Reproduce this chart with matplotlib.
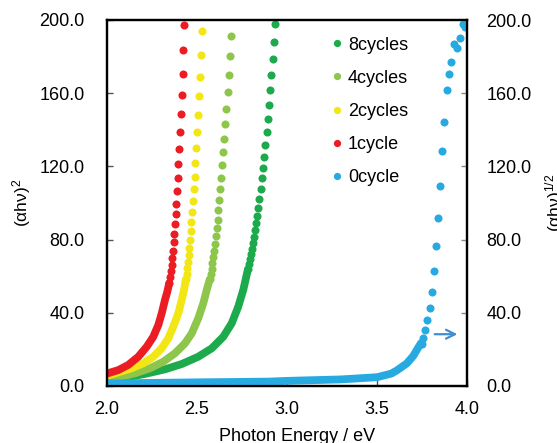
import numpy as np
import matplotlib
matplotlib.use("Agg")
import matplotlib.pyplot as plt
from matplotlib.ticker import FormatStrFormatter

plt.rcParams['font.family'] = ['Liberation Sans', 'DejaVu Sans']
plt.rcParams['mathtext.default'] = 'regular'

# Each sample has a dense lower part (drawn as a
# thick band) and a sparse upper part where single dots are visible.
labels = ["8cycles", "4cycles", "2cycles", "1cycle", "0cycle"]
colors = ["#1caa4c", "#8dc64b", "#f2e614", "#ec1c24", "#27aae1"]

# 8cycles
e8_dots = [2.933, 2.928, 2.921, 2.913, 2.906, 2.898, 2.893, 2.887, 2.879, 2.872, 2.867, 2.859, 2.854,
           2.846, 2.839, 2.833, 2.828, 2.822, 2.817, 2.811, 2.806, 2.800, 2.794, 2.789, 2.783]
v8_dots = [197.6, 188.1, 178.8, 169.9, 161.6, 153.6, 145.9, 138.8, 131.9, 125.3, 119.3, 113.5, 107.8,
           102.3, 97.4, 93.1, 88.9, 85.1, 81.6, 78.3, 75.0, 72.1, 69.2, 66.5, 63.9]
e8_band = [2.783, 2.776, 2.757, 2.729, 2.693, 2.646, 2.582, 2.507, 2.415, 2.322, 2.211, 2.100, 2.000]
v8_band = [63.9, 60.7, 52.5, 43.3, 34.3, 26.9, 20.6, 16.0, 12.0, 9.1, 6.6, 4.6, 3.2]

# 4cycles
e4_dots = [2.687, 2.682, 2.676, 2.671, 2.663, 2.657, 2.652, 2.646, 2.641, 2.635, 2.629, 2.624,
           2.618, 2.614, 2.610, 2.605, 2.600, 2.595, 2.590, 2.585, 2.581, 2.576, 2.571]
v4_dots = [191.4, 180.5, 170.1, 160.5, 151.5, 143.2, 135.1, 127.7, 120.6, 113.8, 107.5, 101.5,
           96.0, 90.7, 86.2, 81.8, 77.8, 73.9, 70.3, 67.0, 63.9, 61.0, 58.3]
e4_band = [2.571, 2.554, 2.535, 2.507, 2.471, 2.433, 2.378, 2.313, 2.239, 2.156, 2.072, 2.000]
v4_band = [58.3, 52.5, 45.2, 37.0, 28.8, 23.3, 17.9, 13.3, 9.7, 6.9, 5.1, 3.7]

# 2cycles
e2_dots = [2.528, 2.522, 2.518, 2.513, 2.507, 2.502, 2.496, 2.491, 2.487, 2.483, 2.478, 2.474,
           2.469, 2.466, 2.462, 2.458, 2.454, 2.450, 2.446, 2.442, 2.438]
v2_dots = [193.8, 180.9, 168.9, 158.3, 148.1, 138.6, 129.9, 122.0, 114.4, 107.5, 101.0, 95.0,
           89.6, 84.5, 79.9, 75.6, 71.6, 67.8, 64.3, 61.2, 58.3]
e2_band = [2.438, 2.428, 2.415, 2.396, 2.368, 2.341, 2.304, 2.257, 2.202, 2.137, 2.063, 2.000]
v2_band = [58.3, 52.5, 47.0, 39.7, 32.4, 26.1, 20.6, 16.0, 12.4, 9.7, 7.5, 5.6]

# 1cycle
e1_dots = [2.429, 2.424, 2.421, 2.415, 2.409, 2.406, 2.402, 2.396, 2.393, 2.389, 2.385, 2.382,
           2.378, 2.374, 2.370, 2.367, 2.363, 2.359, 2.356, 2.352, 2.346]
v1_dots = [197.1, 183.4, 170.5, 159.0, 148.5, 138.6, 129.5, 121.3, 113.5, 106.4, 99.6, 93.8,
           88.4, 83.2, 78.5, 73.9, 69.9, 66.1, 62.7, 59.4, 56.3]
e1_band = [2.346, 2.335, 2.322, 2.304, 2.285, 2.257, 2.221, 2.174, 2.118, 2.063, 2.000]
v1_band = [56.3, 51.5, 47.0, 39.7, 33.3, 26.9, 21.5, 16.0, 11.5, 8.7, 6.8]

# 0cycle (right axis)
e0_band = [2.0, 2.5, 2.9, 3.0, 3.3, 3.5, 3.58, 3.61, 3.665, 3.702, 3.729, 3.745]
v0_band = [1.4, 2.0, 2.4, 2.8, 3.6, 4.8, 6.8, 8.5, 12.3, 16.5, 21.0, 23.5]
e0_dots = [3.748, 3.757, 3.769, 3.780, 3.792, 3.803, 3.814, 3.827, 3.841, 3.850, 3.861, 3.874,
           3.887, 3.898, 3.911, 3.928, 3.946, 3.961, 3.976, 3.989]
v0_dots = [23.0, 26.4, 30.8, 36.3, 42.8, 51.6, 62.6, 76.4, 91.6, 109.5, 128.4, 144.1,
           161.9, 170.7, 177.0, 186.7, 184.5, 190.0, 197.8, 196.4]

x_ticks = [2.0, 2.5, 3.0, 3.5, 4.0]
y_ticks = [0, 40, 80, 120, 160, 200]

fig = plt.figure(figsize=(5.57, 4.43), dpi=100)
ax = fig.add_axes([107 / 557, 57 / 443, 360 / 557, 366 / 443])
ax2 = ax.twinx()

ms = 5.8
lw = 5.6
handles = {}
left_series = [
    ("8cycles", e8_dots, v8_dots, e8_band, v8_band),
    ("4cycles", e4_dots, v4_dots, e4_band, v4_band),
    ("2cycles", e2_dots, v2_dots, e2_band, v2_band),
    ("1cycle", e1_dots, v1_dots, e1_band, v1_band),
]
for name, ed, vd, eb, vb in left_series:
    c = colors[labels.index(name)]
    ax.plot(eb, vb, color=c, lw=lw, solid_capstyle='round', solid_joinstyle='round')
    h, = ax.plot(ed, vd, 'o', ls='none', color=c, ms=ms, mew=0, label=name)
    handles[name] = h

c0 = colors[4]
ax2.plot(e0_band, v0_band, color=c0, lw=lw, solid_capstyle='round', solid_joinstyle='round')
h0, = ax2.plot(e0_dots, v0_dots, 'o', ls='none', color=c0, ms=ms, mew=0, label="0cycle")
handles["0cycle"] = h0

# arrow pointing to the right axis
ax2.annotate("", xy=(3.962, 28.3), xytext=(3.805, 28.3),
             arrowprops=dict(arrowstyle="->", color="#3f8ed0", lw=1.6, mutation_scale=16))

for a in (ax, ax2):
    a.set_xlim(2.0, 4.0)
    a.set_ylim(0, 200)
    a.set_yticks(y_ticks)
    a.yaxis.set_major_formatter(FormatStrFormatter('%.1f'))
    for s in a.spines.values():
        s.set_linewidth(1.6)
        s.set_color('black')

ax.set_xticks(x_ticks)
ax.xaxis.set_major_formatter(FormatStrFormatter('%.1f'))
ax.tick_params(axis='x', direction='in', length=4, width=1, color='#555555',
               labelsize=13, pad=11)
ax.tick_params(axis='y', direction='in', length=4, width=1, color='#555555',
               labelsize=13, pad=16)
ax2.tick_params(axis='y', direction='in', length=4, width=1, color='#888888',
                labelsize=13, pad=14)

ax.set_xlabel("Photon Energy / eV", fontsize=13)
ax.xaxis.set_label_coords(0.528, -0.115)
ax.set_ylabel("(αhν)$^{2}$", fontsize=12.5)
ax.yaxis.set_label_coords(-0.206, 0.5)
fig.text(555 / 557, 1 - 203 / 443, "(αhν)$^{1/2}$", rotation=90, ha='center', va='center',
         fontsize=12.5)

fig.legend([handles[n] for n in labels], labels, loc='upper left',
           bbox_to_anchor=(332.2 / 557, 1 - 36.5 / 443), frameon=False,
           fontsize=13, borderpad=0, borderaxespad=0, handlelength=0.5,
           handletextpad=0.38, labelspacing=0.9, markerscale=0.9)

fig.savefig("out.png", dpi=100)
